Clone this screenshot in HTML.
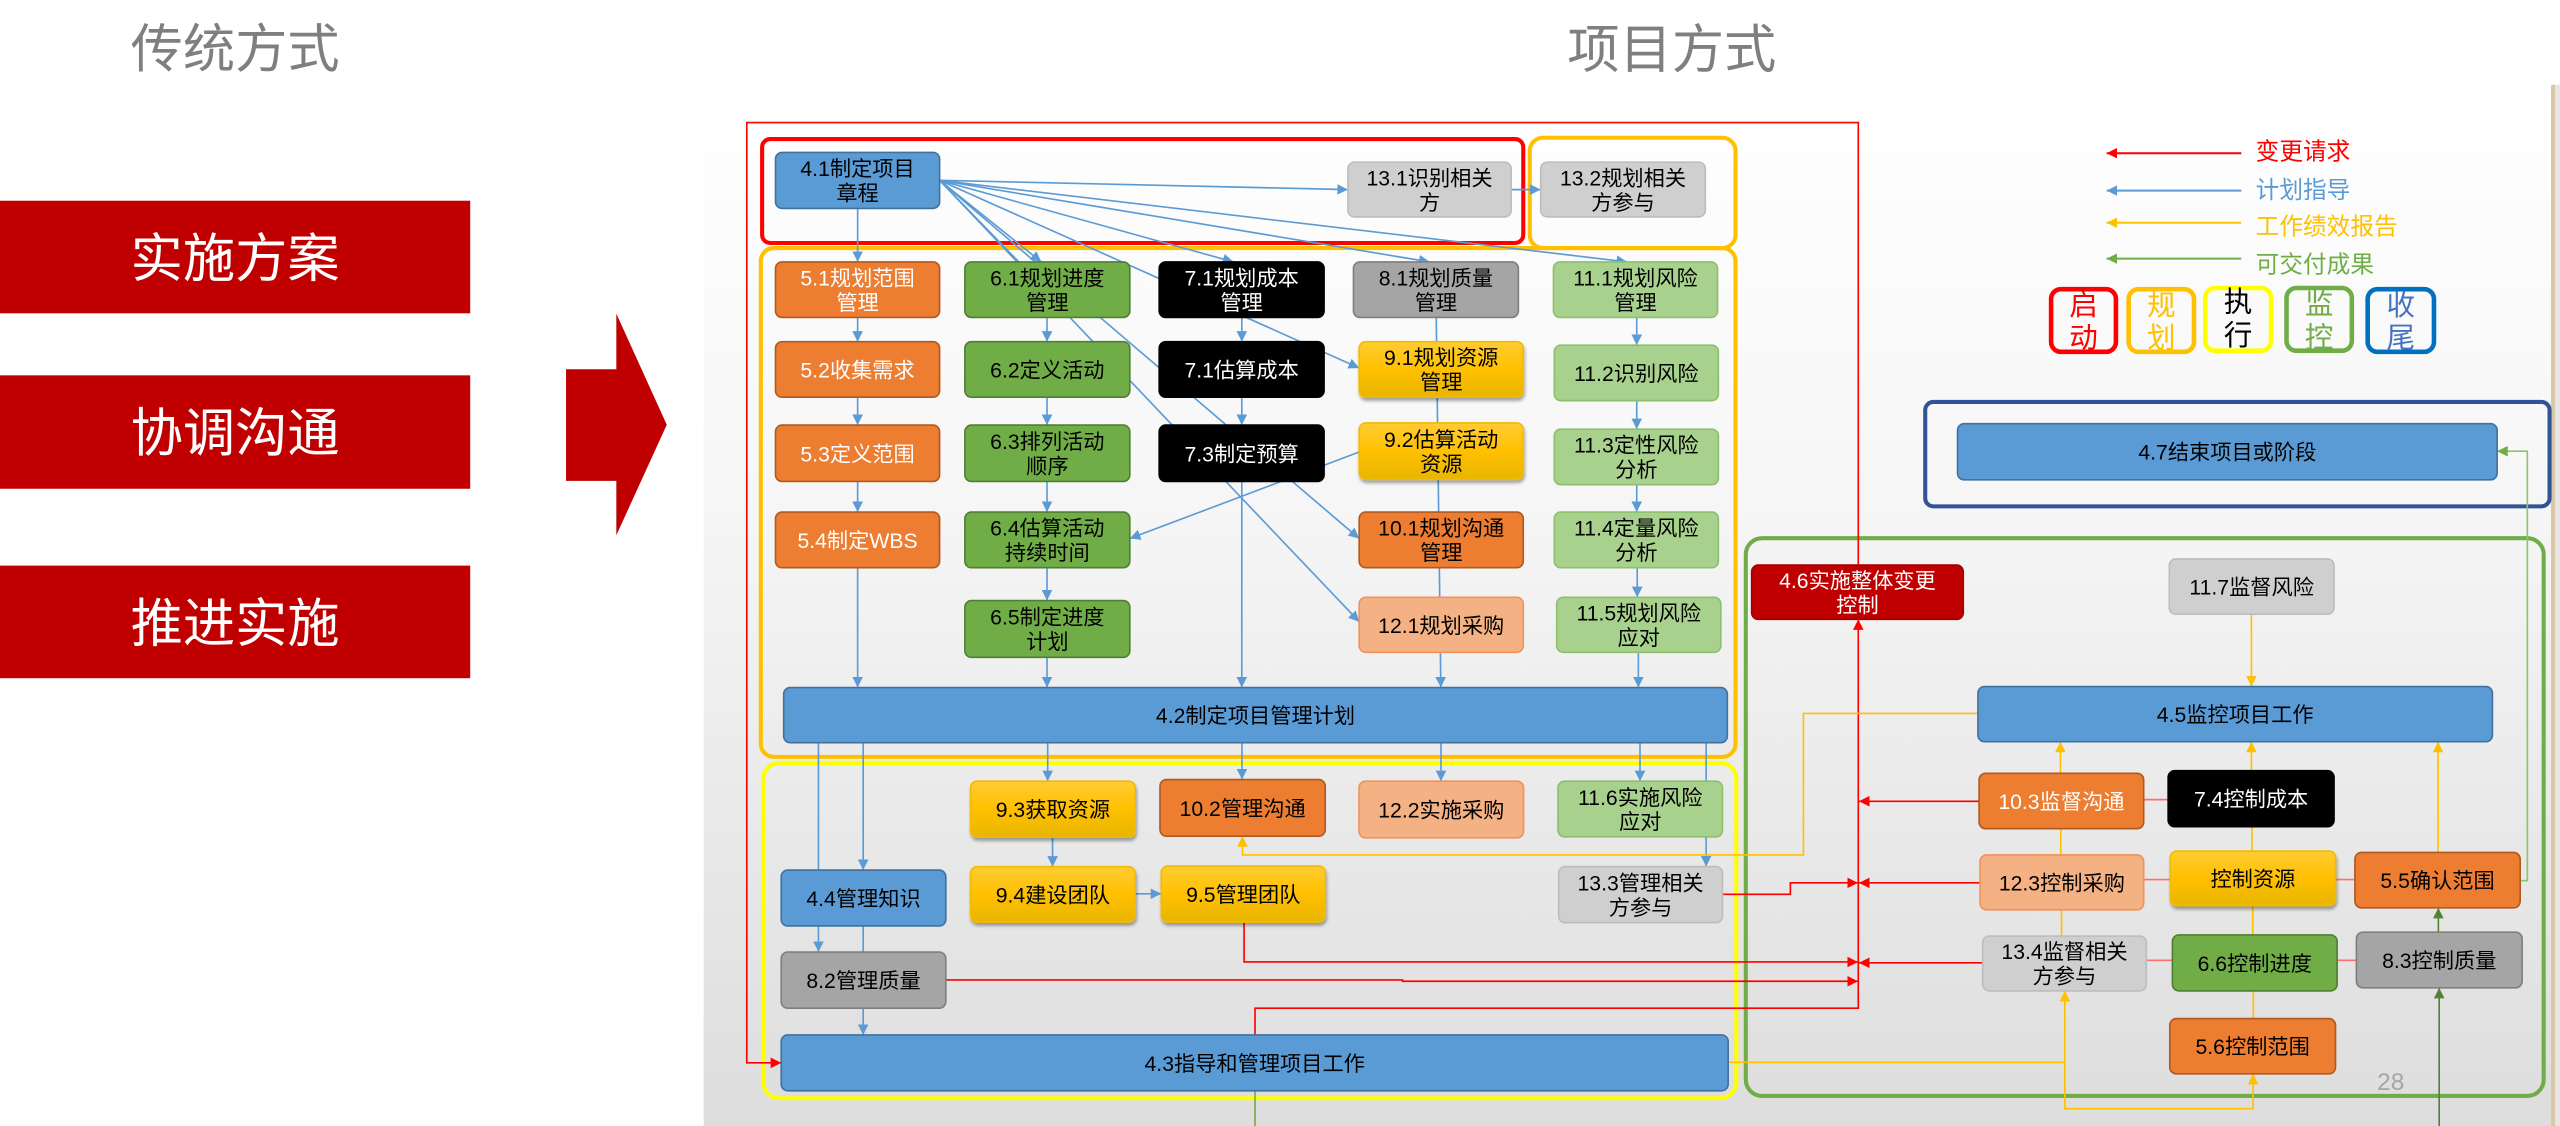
<!DOCTYPE html>
<html><head><meta charset="utf-8">
<style>
html,body{margin:0;padding:0;background:#fff;}
body{width:2560px;height:1126px;overflow:hidden;}
svg{display:block;}
text{font-family:"Liberation Sans","Noto Sans CJK SC",sans-serif;}
</style></head>
<body>
<svg width="2560" height="1126" viewBox="0 0 1568 690" preserveAspectRatio="none" xmlns="http://www.w3.org/2000/svg">
<defs>
<linearGradient id="bg" x1="0" y1="0" x2="0" y2="1">
<stop offset="0" stop-color="#ffffff"/><stop offset="0.4" stop-color="#f6f6f6"/><stop offset="1" stop-color="#dddddd"/>
</linearGradient>
<linearGradient id="gy" x1="0" y1="0" x2="0" y2="1">
<stop offset="0" stop-color="#FFCC33"/><stop offset="0.5" stop-color="#FFC000"/><stop offset="1" stop-color="#E8B500"/>
</linearGradient>
<filter id="sh" x="-10%" y="-20%" width="130%" height="160%"><feDropShadow dx="0.6" dy="1.8" stdDeviation="1" flood-color="#000" flood-opacity="0.35"/></filter>
<marker id="ab" viewBox="0 0 8 8" refX="8" refY="4" markerWidth="6.5" markerHeight="6.5" markerUnits="userSpaceOnUse" orient="auto"><path d="M0,0 L8,4 L0,8 z" fill="#5B9BD5"/></marker>
<marker id="ar" viewBox="0 0 8 8" refX="8" refY="4" markerWidth="6.5" markerHeight="6.5" markerUnits="userSpaceOnUse" orient="auto"><path d="M0,0 L8,4 L0,8 z" fill="#FF0000"/></marker>
<marker id="ay" viewBox="0 0 8 8" refX="8" refY="4" markerWidth="6.5" markerHeight="6.5" markerUnits="userSpaceOnUse" orient="auto"><path d="M0,0 L8,4 L0,8 z" fill="#FFC000"/></marker>
<marker id="ag" viewBox="0 0 8 8" refX="8" refY="4" markerWidth="6.5" markerHeight="6.5" markerUnits="userSpaceOnUse" orient="auto"><path d="M0,0 L8,4 L0,8 z" fill="#70AD47"/></marker>
<marker id="agd" viewBox="0 0 8 8" refX="8" refY="4" markerWidth="6.5" markerHeight="6.5" markerUnits="userSpaceOnUse" orient="auto"><path d="M0,0 L8,4 L0,8 z" fill="#548235"/></marker>
</defs>

<!-- left side -->
<text x="144" y="41" font-size="32" fill="#7F7F7F" text-anchor="middle">传统方式</text>
<rect x="0" y="123" width="288" height="69" fill="#C00000"/>
<text x="144" y="169.5" font-size="32" fill="#fff" text-anchor="middle">实施方案</text>
<rect x="0" y="230" width="288" height="69.5" fill="#C00000"/>
<text x="144" y="276.5" font-size="32" fill="#fff" text-anchor="middle">协调沟通</text>
<rect x="0" y="346.6" width="288" height="69" fill="#C00000"/>
<text x="144" y="393" font-size="32" fill="#fff" text-anchor="middle">推进实施</text>
<path d="M346.7,226.3 H377.5 V192.2 L408.4,260.3 L377.5,328 V294.7 H346.7 Z" fill="#C00000"/>

<text x="1024" y="41.5" font-size="32" fill="#7F7F7F" text-anchor="middle">项目方式</text>

<!-- panel -->
<rect x="431" y="52" width="1131.5" height="638" fill="url(#bg)"/>
<rect x="1562.5" y="52" width="2.6" height="638" fill="#D8C7A2"/>
<rect x="1565.1" y="52" width="3" height="638" fill="#E6E6E6"/>

<!-- frames -->
<rect x="466.8" y="85.2" width="466.2" height="63.7" rx="5" fill="none" stroke="#FF0000" stroke-width="2.5"/>
<rect x="937" y="84.4" width="126" height="67.6" rx="8" fill="none" stroke="#FFC000" stroke-width="2.5"/>
<rect x="466" y="152" width="597" height="311.8" rx="8" fill="none" stroke="#FFC000" stroke-width="2.5"/>
<rect x="467.5" y="467.5" width="596" height="205.5" rx="10" fill="none" stroke="#FFFF00" stroke-width="2.5"/>
<rect x="1069.3" y="329.8" width="488.7" height="341.8" rx="10" fill="none" stroke="#70AD47" stroke-width="2.5"/>
<rect x="1179.2" y="246.3" width="382.4" height="64" rx="5" fill="none" stroke="#2F5597" stroke-width="2.5"/>

<!-- legend -->
<path d="M1372.8,93.9 H1290.3" stroke="#FF0000" stroke-width="1.2" marker-end="url(#ar)"/>
<path d="M1372.8,116.8 H1290.3" stroke="#5B9BD5" stroke-width="1.2" marker-end="url(#ab)"/>
<path d="M1372.8,136.5 H1290.3" stroke="#FFC000" stroke-width="1.2" marker-end="url(#ay)"/>
<path d="M1372.8,158.5 H1290.3" stroke="#70AD47" stroke-width="1.2" marker-end="url(#ag)"/>
<text x="1381.6" y="97.6" font-size="14.5" fill="#FF0000">变更请求</text>
<text x="1381.6" y="121.3" font-size="14.5" fill="#5B9BD5">计划指导</text>
<text x="1381.6" y="143.7" font-size="14.5" fill="#FFC000">工作绩效报告</text>
<text x="1381.6" y="167" font-size="14.5" fill="#70AD47">可交付成果</text>

<rect x="1256.3" y="177.2" width="39.7" height="38.4" rx="6" fill="none" stroke="#FF0000" stroke-width="2.8"/>
<text x="1276.2" y="192.9" font-size="17.5" fill="#FF0000" text-anchor="middle">启</text>
<text x="1276.2" y="213" font-size="17.5" fill="#FF0000" text-anchor="middle">动</text>
<rect x="1303.8" y="177.2" width="40" height="38.4" rx="6" fill="none" stroke="#FFC000" stroke-width="2.8"/>
<text x="1323.8" y="192.9" font-size="17.5" fill="#FFC000" text-anchor="middle">规</text>
<text x="1323.8" y="213" font-size="17.5" fill="#FFC000" text-anchor="middle">划</text>
<rect x="1350.7" y="176.5" width="40.3" height="38.4" rx="6" fill="none" stroke="#FFFF00" stroke-width="2.8"/>
<text x="1370.8" y="191" font-size="17.5" fill="#000" text-anchor="middle">执</text>
<text x="1370.8" y="211.5" font-size="17.5" fill="#000" text-anchor="middle">行</text>
<rect x="1400.5" y="176.5" width="40" height="38.4" rx="6" fill="none" stroke="#70AD47" stroke-width="2.8"/>
<text x="1420.5" y="192" font-size="17.5" fill="#70AD47" text-anchor="middle">监</text>
<text x="1420.5" y="212.5" font-size="17.5" fill="#70AD47" text-anchor="middle">控</text>
<rect x="1450.2" y="177.2" width="40.6" height="38.4" rx="6" fill="none" stroke="#0070C0" stroke-width="2.8"/>
<text x="1470.5" y="192.9" font-size="17.5" fill="#4472C4" text-anchor="middle">收</text>
<text x="1470.5" y="213" font-size="17.5" fill="#4472C4" text-anchor="middle">尾</text>

<!-- blue connectors -->
<g stroke="#5B9BD5" stroke-width="1" fill="none">
<path d="M575.5,110.5 L825.6,116.2" marker-end="url(#ab)"/>
<path d="M575.5,110.5 L996.6,160.5" marker-end="url(#ab)"/>
<path d="M575.5,110.5 L875.6,160.5" marker-end="url(#ab)"/>
<path d="M575.5,110.5 L755.5,160.5" marker-end="url(#ab)"/>
<path d="M575.5,110.5 L637.8,160.5" marker-end="url(#ab)"/>
<path d="M575.5,110.5 L832.5,225.5" marker-end="url(#ab)"/>
<path d="M575.5,110.5 L832.5,330" marker-end="url(#ab)"/>
<path d="M575.5,110.5 L832.5,381" marker-end="url(#ab)"/>
<path d="M575.5,110.5 L624,160.5"/>
<path d="M925.6,116.2 H943.7" marker-end="url(#ab)"/>
<path d="M525.3,127.7 V160.5" marker-end="url(#ab)"/>
<path d="M525.3,194.5 V209.4" marker-end="url(#ab)"/>
<path d="M525.3,243.4 V260.5" marker-end="url(#ab)"/>
<path d="M525.3,295 V313.8" marker-end="url(#ab)"/>
<path d="M525.3,347.9 V421.3" marker-end="url(#ab)"/>
<path d="M641.3,194.5 V209.4" marker-end="url(#ab)"/>
<path d="M641.3,243.4 V260.5" marker-end="url(#ab)"/>
<path d="M641.3,295 V313.8" marker-end="url(#ab)"/>
<path d="M641.3,347.9 V368" marker-end="url(#ab)"/>
<path d="M641.3,402.8 V421.3" marker-end="url(#ab)"/>
<path d="M760.6,194.5 V209.4" marker-end="url(#ab)"/>
<path d="M760.6,243.4 V260.5" marker-end="url(#ab)"/>
<path d="M760.6,295 V421.3" marker-end="url(#ab)"/>
<path d="M879.7,194.5 L882.5,421.3" marker-end="url(#ab)"/>
<path d="M1002.5,194.5 V211.5" marker-end="url(#ab)"/>
<path d="M1002.5,245.5 V263" marker-end="url(#ab)"/>
<path d="M1002.5,297 V313.8" marker-end="url(#ab)"/>
<path d="M1002.8,347.9 V366" marker-end="url(#ab)"/>
<path d="M1003.5,399.7 V421.3" marker-end="url(#ab)"/>
<path d="M832.5,277 L692,330" marker-end="url(#ab)"/>
<path d="M528.7,455.1 V533.2" marker-end="url(#ab)"/>
<path d="M501.3,455.1 V583.4" marker-end="url(#ab)"/>
<path d="M528.7,567.4 V634.2" marker-end="url(#ab)"/>
<path d="M641.7,455.1 V478.7" marker-end="url(#ab)"/>
<path d="M760.7,455.1 V477.7" marker-end="url(#ab)"/>
<path d="M882.6,455.1 V478.7" marker-end="url(#ab)"/>
<path d="M1004.5,455.1 V478.7" marker-end="url(#ab)"/>
<path d="M1045,455.1 V531" marker-end="url(#ab)"/>
<path d="M644.7,513 V531.1" marker-end="url(#ab)"/>
<path d="M695.3,547.7 H711.3" marker-end="url(#ab)"/>
</g>

<!-- red connectors -->
<g stroke="#FF0000" stroke-width="1" fill="none">
<path d="M1138.2,346.3 V75.1 H457.4 V651.3 H478.5" marker-end="url(#ar)"/>
<path d="M768.7,634.2 V617.8 H1138.2 V379.5" marker-end="url(#ar)"/>
<path d="M762,565 V589.5 H1138" marker-end="url(#ar)"/>
<path d="M579.3,600.5 H859 V601.3 H1138" marker-end="url(#ar)"/>
<path d="M1055,548 H1096.6 V541 H1138" marker-end="url(#ar)"/>
<path d="M1212.2,491 H1138.6" marker-end="url(#ar)"/>
<path d="M1212.8,541 H1138.6" marker-end="url(#ar)"/>
<path d="M1214.4,590 H1138.6" marker-end="url(#ar)"/>
</g>
<g stroke="#FF6F6F" stroke-width="1" fill="none">
<path d="M1313,490 H1328"/>
<path d="M1313,539 H1329.3"/>
<path d="M1430.5,539 H1442.4"/>
<path d="M1314.6,588.5 H1330.6"/>
<path d="M1431.5,588.5 H1443.3"/>
</g>

<!-- yellow connectors -->
<g stroke="#FFC000" stroke-width="1" fill="none">
<path d="M1379,376.4 V420.7" marker-end="url(#ay)"/>
<path d="M1262,473.9 V454.5" marker-end="url(#ay)"/>
<path d="M1379,472.3 V454.5" marker-end="url(#ay)"/>
<path d="M1493.3,522.4 V454.5" marker-end="url(#ay)"/>
<path d="M1262.2,507.8 V523.9"/>
<path d="M1262.7,557.5 V573.6"/>
<path d="M1379.3,506.6 V521.5"/>
<path d="M1379.8,555 V572.9"/>
<path d="M1380.2,607.2 V624.2"/>
<path d="M1211.5,437.2 H1104.6 V523.9 H761 V512.4" marker-end="url(#ay)"/>
<path d="M1058.4,651 H1264.7 V607.2" marker-end="url(#ay)"/>
<path d="M1264.7,651 V679.4 H1380 V658" marker-end="url(#ay)"/>
</g>

<!-- green connectors -->
<g stroke-width="1" fill="none">
<path d="M768.7,668.4 V690" stroke="#70AD47"/>
<path d="M1494,690 V605.3" stroke="#548235" marker-end="url(#agd)"/>
<path d="M1493.5,571.2 V556.3" stroke="#548235" marker-end="url(#agd)"/>
<path d="M1543.6,539.7 H1548 V276.5 H1529.5" stroke="#8CC56A" marker-end="url(#ag)"/>
</g>

<!-- boxes -->
<g stroke-width="1">
<!-- blue -->
<g fill="#5B9BD5" stroke="#41719C">
<rect x="475" y="93.4" width="100.5" height="34.3" rx="4"/>
<rect x="480" y="421.3" width="578" height="33.8" rx="4"/>
<rect x="478.5" y="533.2" width="100.8" height="34.2" rx="4"/>
<rect x="478.5" y="634.2" width="580" height="34.2" rx="4"/>
<rect x="1211.5" y="420.7" width="315.1" height="33.8" rx="4"/>
<rect x="1199" y="259.6" width="330.5" height="34.4" rx="4"/>
</g>
<!-- light gray -->
<g fill="#CFCFCF" stroke="#BDBDBD">
<rect x="825.6" y="99.4" width="100" height="33.5" rx="4"/>
<rect x="943.7" y="99.4" width="100.8" height="33.5" rx="4"/>
<rect x="954.7" y="531" width="100.3" height="34.4" rx="4"/>
<rect x="1328.7" y="342.5" width="100.9" height="33.9" rx="4"/>
<rect x="1214.4" y="573.6" width="100.2" height="33.6" rx="4"/>
</g>
<!-- orange -->
<g fill="#ED7D31" stroke="#AE5A21">
<rect x="475" y="160.5" width="100.5" height="34" rx="4"/>
<rect x="475" y="209.4" width="100.5" height="34" rx="4"/>
<rect x="475" y="260.5" width="100.5" height="34.5" rx="4"/>
<rect x="475" y="313.8" width="100.5" height="34.1" rx="4"/>
<rect x="832.5" y="313.8" width="100.5" height="34.1" rx="4"/>
<rect x="710.5" y="477.7" width="101.2" height="34.7" rx="4"/>
<rect x="1212.2" y="473.9" width="100.8" height="33.9" rx="4"/>
<rect x="1442.4" y="522.4" width="101.2" height="33.9" rx="4"/>
<rect x="1329" y="624.2" width="101.5" height="33.8" rx="4"/>
</g>
<!-- green -->
<g fill="#70AD47" stroke="#507E32">
<rect x="591" y="160.5" width="101" height="34" rx="4"/>
<rect x="591" y="209.4" width="101" height="34" rx="4"/>
<rect x="591" y="260.5" width="101" height="34.5" rx="4"/>
<rect x="591" y="313.8" width="101" height="34.1" rx="4"/>
<rect x="591" y="368" width="101" height="34.8" rx="4"/>
<rect x="1330.6" y="572.9" width="100.9" height="34.3" rx="4"/>
</g>
<!-- black -->
<g fill="#000" stroke="#000">
<rect x="710" y="160.5" width="101" height="34" rx="4"/>
<rect x="710" y="209.4" width="101" height="34" rx="4"/>
<rect x="710" y="260.5" width="101" height="34.5" rx="4"/>
<rect x="1328" y="472.3" width="101.6" height="34.3" rx="4"/>
</g>
<!-- gray -->
<g fill="#A5A5A5" stroke="#7F7F7F">
<rect x="829" y="160.5" width="101" height="34" rx="4"/>
<rect x="478.5" y="583.4" width="100.8" height="34.4" rx="4"/>
<rect x="1443.3" y="571.2" width="101.5" height="34.1" rx="4"/>
</g>
<!-- light green -->
<g fill="#A9D18E" stroke="#8DBF6D">
<rect x="951.5" y="160.5" width="100.5" height="34" rx="4"/>
<rect x="952" y="211.5" width="100.5" height="34" rx="4"/>
<rect x="952" y="263" width="100.5" height="34" rx="4"/>
<rect x="952" y="313.8" width="100.5" height="34.1" rx="4"/>
<rect x="953.5" y="366" width="100.5" height="33.7" rx="4"/>
<rect x="954.3" y="478.7" width="100.7" height="34.1" rx="4"/>
</g>
<!-- salmon -->
<g fill="#F4B183" stroke="#F0925A">
<rect x="832.5" y="366" width="100.5" height="33.7" rx="4"/>
<rect x="832.4" y="478.7" width="100.8" height="34.7" rx="4"/>
<rect x="1212.8" y="523.9" width="100.2" height="33.6" rx="4"/>
</g>
<!-- yellow -->
<g fill="url(#gy)" stroke="#F2BA00" filter="url(#sh)">
<rect x="832.5" y="209.4" width="100.5" height="34" rx="4"/>
<rect x="832.5" y="259.2" width="100.5" height="34.5" rx="4"/>
<rect x="594.5" y="478.7" width="100.8" height="34.3" rx="4"/>
<rect x="594.5" y="531.1" width="100.8" height="33.9" rx="4"/>
<rect x="711.3" y="530.7" width="100.4" height="34.3" rx="4"/>
<rect x="1329.3" y="521.5" width="101.2" height="33.5" rx="4"/>
</g>
<!-- dark red -->
<rect x="1072.9" y="346.3" width="129.6" height="33.2" rx="4" fill="#C00000" stroke="#A00000"/>
</g>

<!-- box texts -->
<g font-size="13" text-anchor="middle" fill="#000">
<text x="525.25" y="107.95">4.1制定项目</text><text x="525.25" y="122.95">章程</text>
<text x="875.6" y="113.55">13.1识别相关</text><text x="875.6" y="128.55">方</text>
<text x="994.1" y="113.55">13.2规划相关</text><text x="994.1" y="128.55">方参与</text>

<text x="641.5" y="174.9">6.1规划进度</text><text x="641.5" y="189.9">管理</text>
<text x="879.5" y="174.9">8.1规划质量</text><text x="879.5" y="189.9">管理</text>
<text x="1001.75" y="174.9">11.1规划风险</text><text x="1001.75" y="189.9">管理</text>

<text x="641.5" y="231.3">6.2定义活动</text>
<text x="882.75" y="223.8">9.1规划资源</text><text x="882.75" y="238.8">管理</text>
<text x="1002.25" y="233.4">11.2识别风险</text>

<text x="641.5" y="275.15">6.3排列活动</text><text x="641.5" y="290.15">顺序</text>
<text x="882.75" y="273.85">9.2估算活动</text><text x="882.75" y="288.85">资源</text>
<text x="1002.25" y="277.4">11.3定性风险</text><text x="1002.25" y="292.4">分析</text>

<text x="641.5" y="328.25">6.4估算活动</text><text x="641.5" y="343.25">持续时间</text>
<text x="882.75" y="328.25">10.1规划沟通</text><text x="882.75" y="343.25">管理</text>
<text x="1002.25" y="328.25">11.4定量风险</text><text x="1002.25" y="343.25">分析</text>

<text x="641.5" y="382.8">6.5制定进度</text><text x="641.5" y="397.8">计划</text>
<text x="882.75" y="387.75">12.1规划采购</text>
<text x="1003.75" y="380.25">11.5规划风险</text><text x="1003.75" y="395.25">应对</text>

<text x="769" y="443.1">4.2制定项目管理计划</text>

<text x="644.9" y="500.75">9.3获取资源</text>
<text x="761.1" y="499.95">10.2管理沟通</text>
<text x="882.8" y="500.95">12.2实施采购</text>
<text x="1004.65" y="493.15">11.6实施风险</text><text x="1004.65" y="508.15">应对</text>
<text x="528.9" y="555.2">4.4管理知识</text>
<text x="644.9" y="552.95">9.4建设团队</text>
<text x="761.5" y="552.75">9.5管理团队</text>
<text x="1004.85" y="545.6">13.3管理相关</text><text x="1004.85" y="560.6">方参与</text>
<text x="528.9" y="605.5">8.2管理质量</text>
<text x="768.5" y="656.2">4.3指导和管理项目工作</text>

<text x="1379.15" y="364.35">11.7监督风险</text>
<text x="1369.05" y="442.5">4.5监控项目工作</text>
<text x="1379.9" y="543.15">控制资源</text>
<text x="1493" y="544.25">5.5确认范围</text>
<text x="1264.5" y="587.8">13.4监督相关</text><text x="1264.5" y="602.8">方参与</text>
<text x="1381.05" y="594.95">6.6控制进度</text>
<text x="1494.05" y="593.15">8.3控制质量</text>
<text x="1379.75" y="646">5.6控制范围</text>
<text x="1262.9" y="545.6">12.3控制采购</text>
<text x="1364.25" y="281.7">4.7结束项目或阶段</text>
</g>
<g font-size="13" text-anchor="middle" fill="#fff">
<text x="525.25" y="174.9">5.1规划范围</text><text x="525.25" y="189.9">管理</text>
<text x="760.5" y="174.9">7.1规划成本</text><text x="760.5" y="189.9">管理</text>
<text x="525.25" y="231.3">5.2收集需求</text>
<text x="760.5" y="231.3">7.1估算成本</text>
<text x="525.25" y="282.65">5.3定义范围</text>
<text x="760.5" y="282.65">7.3制定预算</text>
<text x="525.25" y="335.75">5.4制定WBS</text>
<text x="1262.6" y="495.75">10.3监督沟通</text>
<text x="1378.8" y="494.35">7.4控制成本</text>
<text x="1137.7" y="360.3">4.6实施整体变更</text><text x="1137.7" y="375.3">控制</text>
</g>

<text x="1456" y="668" font-size="15" fill="#A6A6A6">28</text>
</svg>
</body></html>
